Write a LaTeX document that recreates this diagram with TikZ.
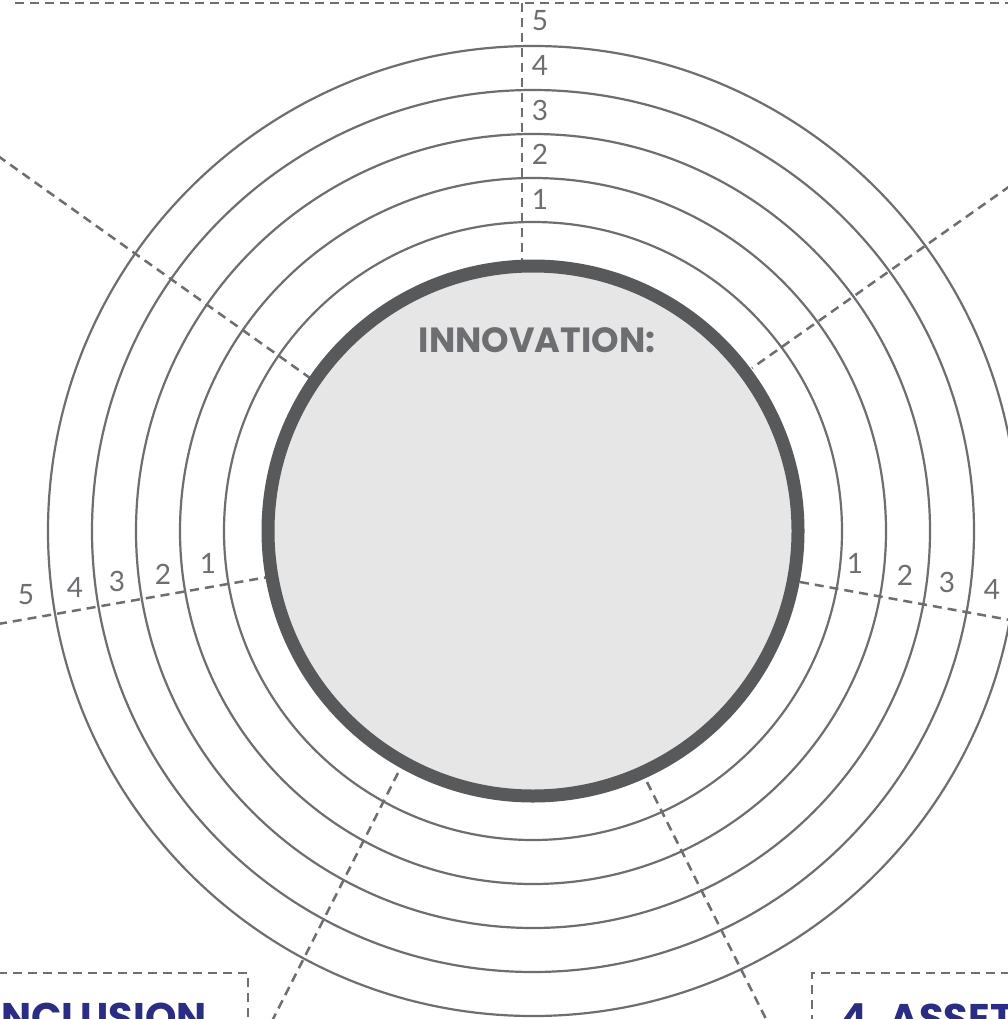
\documentclass[tikz,border=0pt]{standalone}
\usepackage{fontspec}
\setmainfont{Lato}
\newfontfamily\geofont{Poppins}
\definecolor{ringgray}{HTML}{6D6E71}
\definecolor{coregray}{HTML}{58595B}
\definecolor{corefill}{HTML}{E6E6E7}
\definecolor{navy}{HTML}{2B2D85}
\begin{document}
\begin{tikzpicture}[x=1pt,y=-1pt,
  ring/.style={draw=ringgray, line width=2.2pt},
  dashline/.style={draw=ringgray, line width=2.5pt, dash pattern=on 9pt off 6pt},
  num/.style={text=ringgray, font=\fontsize{28}{28}\selectfont, inner sep=0pt},
  title/.style={text=ringgray, font=\geofont\bfseries\fontsize{35}{35}\selectfont, inner sep=0pt},
  boxtitle/.style={text=navy, font=\geofont\bfseries\fontsize{40}{40}\selectfont, inner sep=0pt}]
\clip (0,0) rectangle (1008,1019);
\useasboundingbox (0,0) rectangle (1008,1019);
\fill[white] (0,0) rectangle (1008,1019);
\coordinate (c) at (533,531);
% rings
\foreach \r in {309,353,397,441,485} \draw[ring] (c) circle[radius=\r pt];
% dashed guide lines
\coordinate (topL) at (15,3);   \coordinate (topR) at (1010,3);
\coordinate (vT) at (522,3);    \coordinate (vB) at (522,265);
\coordinate (ulA) at (-2,156);  \coordinate (ulB) at (310,378);
\coordinate (urA) at (1010,186);\coordinate (urB) at (752,368);
\coordinate (lA) at (-2,624);   \coordinate (lB) at (268,577);
\coordinate (rA) at (800,582);  \coordinate (rB) at (1010,620);
\coordinate (llA) at (398,773); \coordinate (llB) at (270,1025);
\coordinate (lrA) at (647,782); \coordinate (lrB) at (769,1025);
\draw[dashline] (topL) -- (topR);
\draw[dashline] (vT) -- (vB);
\draw[dashline] (ulA) -- (ulB);
\draw[dashline] (urA) -- (urB);
\draw[dashline] (lA) -- (lB);
\draw[dashline] (rA) -- (rB);
\draw[dashline] (llA) -- (llB);
\draw[dashline] (lrA) -- (lrB);
% bottom boxes
\coordinate (b1a) at (-2,973); \coordinate (b1b) at (248,973); \coordinate (b1c) at (248,1025);
\coordinate (b2a) at (1010,973); \coordinate (b2b) at (812,973); \coordinate (b2c) at (812,1025);
\draw[dashline] (b1a) -- (b1b) -- (b1c);
\draw[dashline] (b2a) -- (b2b) -- (b2c);
% core
\draw[line width=13pt, draw=coregray, fill=corefill] (c) circle[radius=265pt];
\node[title] (innov) at (537,340) {INNOVATION:};
% numbers top
\node[num] (t5) at (540,21) {5};
\node[num] (t4) at (540,65) {4};
\node[num] (t3) at (540,110) {3};
\node[num] (t2) at (540,154) {2};
\node[num] (t1) at (540,199) {1};
% numbers left
\node[num] (l5) at (26,595) {5};
\node[num] (l4) at (75,587) {4};
\node[num] (l3) at (117,581) {3};
\node[num] (l2) at (163,574) {2};
\node[num] (l1) at (208,563) {1};
% numbers right
\node[num] (r1) at (855,563) {1};
\node[num] (r2) at (905,575) {2};
\node[num] (r3) at (947,582) {3};
\node[num] (r4) at (992,589) {4};
% box titles
\node[boxtitle, anchor=north east] (incl) at (207,1003) {INCLUSION};
\node[boxtitle, anchor=north west] (asset) at (840,1003) {4. ASSET};
\end{tikzpicture}
\end{document}
